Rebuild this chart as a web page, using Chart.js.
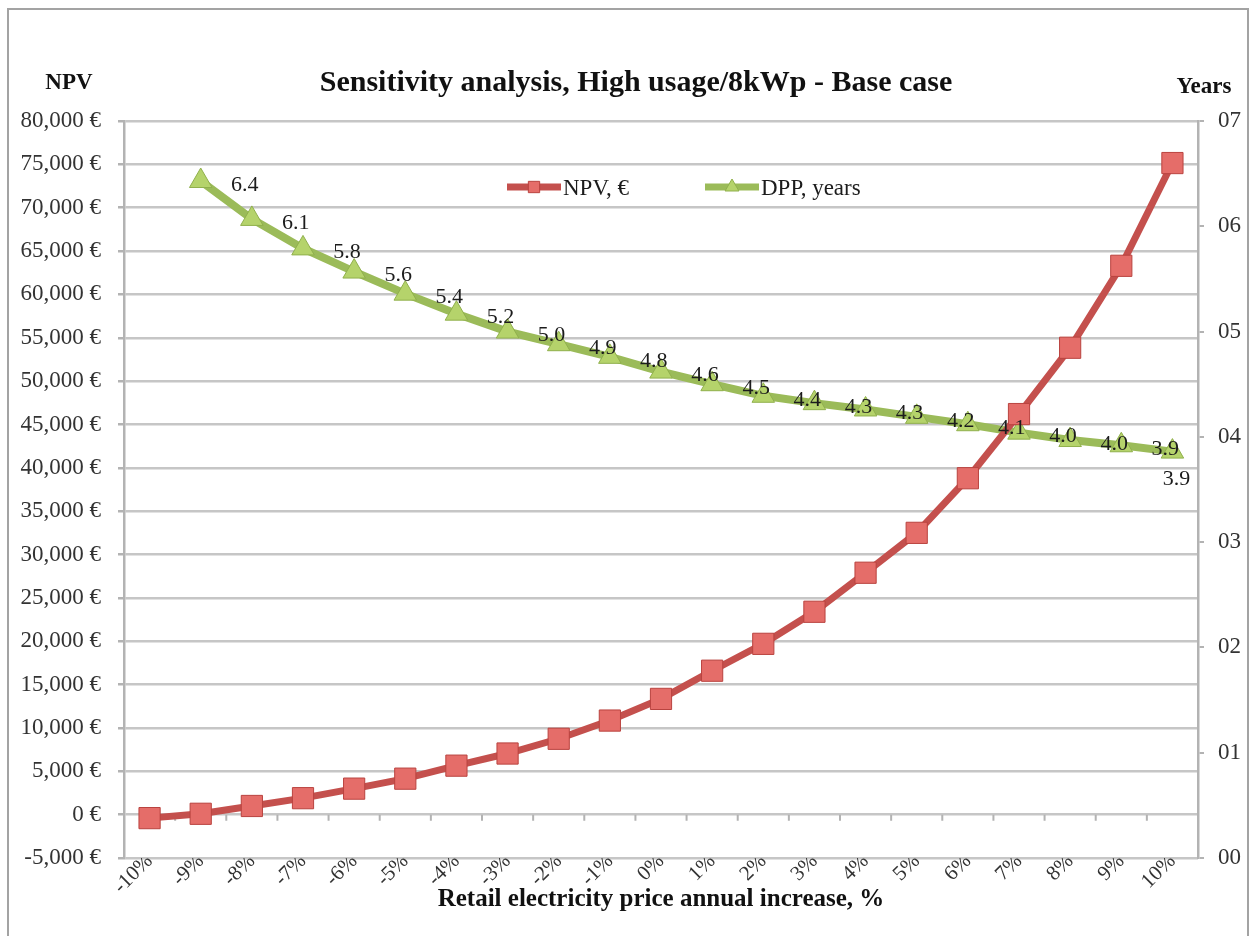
<!DOCTYPE html>
<html>
<head>
<meta charset="utf-8">
<title>Sensitivity analysis, High usage/8kWp - Base case</title>
<script src="https://cdn.jsdelivr.net/npm/chart.js@4.4.1/dist/chart.umd.min.js"></script>
<style>
  html, body { margin: 0; padding: 0; background: #ffffff; }
  #wrap { width: 1253px; height: 936px; position: relative; }
</style>
</head>
<body>
<div id="wrap"><canvas id="chart" width="1253" height="936"></canvas></div>
<script>
// ---- data ----
const categories = ['-10%', '-9%', '-8%', '-7%', '-6%', '-5%', '-4%', '-3%', '-2%', '-1%', '0%',
                    '1%', '2%', '3%', '4%', '5%', '6%', '7%', '8%', '9%', '10%'];
const npvValues = [-400, 100, 1000, 1900, 3000, 4150, 5650, 7050, 8750, 10850, 13350,
                   16600, 19700, 23400, 27900, 32500, 38800, 46200, 53850, 63300, 75150];
// discounted payback period in years; value labels show one decimal
const dppValues = [null, 6.43, 6.07, 5.79, 5.57, 5.36, 5.17, 5.0, 4.88, 4.76, 4.62,
                   4.5, 4.39, 4.32, 4.26, 4.19, 4.12, 4.04, 3.97, 3.92, 3.86];
const npvAxis = [-5000, 80000, 5000];   // min, max, step
const yearAxis = [0, 7, 1];             // min, max, step
const seriesNames = ['NPV, €', 'DPP, years'];
const titleText = 'Sensitivity analysis, High usage/8kWp - Base case';
const xAxisTitle = 'Retail electricity price annual increase, %';
const leftAxisName = 'NPV';
const rightAxisName = 'Years';

// ---- style ----
const SERIF = '"Liberation Serif", "Times New Roman", Times, serif';
const RED = '#c4504d';
const GREEN = '#9bbb59';
const GRID = '#c6c6c6';
const AXIS = '#b3b3b3';
const TICK_TEXT = '#333333';

const fmtEuro = v => v.toLocaleString('en-US') + ' €';
const fmtYears = v => '0' + v;

// frame, headings, legend, zero-line ticks and DPP value labels
const decorations = {
  id: 'decorations',
  beforeDraw(chart) {
    const ctx = chart.ctx;
    ctx.save();
    ctx.fillStyle = '#ffffff';
    ctx.fillRect(0, 0, chart.width, chart.height);
    ctx.strokeStyle = '#a3a3a3';
    ctx.lineWidth = 2;
    ctx.strokeRect(8, 9, 1240, 960);
    ctx.restore();
  },
  beforeDatasetsDraw(chart) {
    // small category ticks hanging from the zero line
    const ctx = chart.ctx;
    const xs = chart.scales.x;
    const y0 = chart.scales.y.getPixelForValue(0);
    const half = (xs.getPixelForValue(1) - xs.getPixelForValue(0)) / 2;
    ctx.save();
    ctx.strokeStyle = AXIS;
    ctx.lineWidth = 2;
    ctx.beginPath();
    for (let i = 0; i < categories.length - 1; i++) {
      const bx = xs.getPixelForValue(i) + half;
      ctx.moveTo(bx, y0);
      ctx.lineTo(bx, y0 + 6);
    }
    ctx.stroke();
    ctx.restore();
  },
  afterDatasetsDraw(chart) {
    const ctx = chart.ctx;
    const xs = chart.scales.x;
    const step = xs.getPixelForValue(1) - xs.getPixelForValue(0);
    const meta = chart.getDatasetMeta(1);
    const last = dppValues.length - 1;
    ctx.save();
    ctx.font = '22px ' + SERIF;
    ctx.fillStyle = '#1c1c1c';
    ctx.textAlign = 'center';
    ctx.textBaseline = 'middle';
    dppValues.forEach((v, i) => {
      if (v === null) return;
      const pt = meta.data[i];
      let dx = step * 0.86, dy = 4;
      if (i === last) { dx = 4; dy = 28; }
      ctx.fillText(v.toFixed(1), pt.x + dx, pt.y + dy);
    });
    ctx.restore();
  },
  afterDraw(chart) {
    const ctx = chart.ctx;
    const area = chart.chartArea;
    ctx.save();
    ctx.fillStyle = '#111111';
    ctx.textBaseline = 'middle';
    ctx.textAlign = 'center';
    ctx.font = 'bold 30px ' + SERIF;
    ctx.fillText(titleText, 636, 83);
    ctx.font = 'bold 23px ' + SERIF;
    ctx.fillText(leftAxisName, 69, 83);
    ctx.fillText(rightAxisName, 1204, 87);

    // legend inside the plot area
    const ly = area.top + 66;
    const items = [
      { ds: chart.data.datasets[0], x: 507 },
      { ds: chart.data.datasets[1], x: 705 }
    ];
    items.forEach(({ ds, x }) => {
      ctx.strokeStyle = ds.borderColor;
      ctx.lineWidth = 7;
      ctx.beginPath();
      ctx.moveTo(x, ly);
      ctx.lineTo(x + 54, ly);
      ctx.stroke();
      ctx.fillStyle = ds.pointBackgroundColor;
      ctx.strokeStyle = ds.pointBorderColor;
      ctx.lineWidth = 1;
      Chart.helpers.drawPoint(ctx, { pointStyle: ds.pointStyle, radius: 8, rotation: 0, borderWidth: 1 }, x + 27, ly);
      ctx.fillStyle = '#1c1c1c';
      ctx.font = '23px ' + SERIF;
      ctx.textAlign = 'left';
      ctx.fillText(ds.label, x + 56, ly + 2);
    });
    ctx.restore();
  }
};

new Chart(document.getElementById('chart').getContext('2d'), {
  type: 'line',
  data: {
    labels: categories,
    datasets: [
      {
        label: seriesNames[0],
        data: npvValues,
        yAxisID: 'y',
        borderColor: RED,
        borderWidth: 7,
        tension: 0,
        pointStyle: 'rect',
        pointRadius: 15,
        pointBackgroundColor: '#e56d69',
        pointBorderColor: '#b9433f',
        pointBorderWidth: 1
      },
      {
        label: seriesNames[1],
        data: dppValues,
        yAxisID: 'y1',
        borderColor: GREEN,
        borderWidth: 8,
        tension: 0,
        pointStyle: 'triangle',
        pointRadius: 13,
        pointBackgroundColor: '#b5d36b',
        pointBorderColor: '#90b04c',
        pointBorderWidth: 1
      }
    ]
  },
  options: {
    responsive: false,
    animation: false,
    devicePixelRatio: 1,
    layout: { padding: { top: 121, left: 0, right: 0, bottom: 0 } },
    plugins: {
      legend: { display: false },
      title: { display: false },
      tooltip: { enabled: false }
    },
    scales: {
      x: {
        type: 'category',
        offset: true,
        grid: { display: false, drawTicks: false },
        border: { display: false },
        ticks: {
          autoSkip: false,
          minRotation: 45,
          maxRotation: 45,
          padding: -9,
          color: TICK_TEXT,
          font: { family: SERIF, size: 21 }
        },
        title: {
          display: true,
          text: xAxisTitle,
          color: '#111111',
          font: { family: SERIF, size: 25, weight: 'bold' },
          padding: { top: 0, bottom: 21 }
        },
        afterFit(s) { s.height = 78; }
      },
      y: {
        position: 'left',
        min: npvAxis[0],
        max: npvAxis[1],
        ticks: {
          stepSize: npvAxis[2],
          padding: 17,
          color: TICK_TEXT,
          font: { family: SERIF, size: 23 },
          callback: v => fmtEuro(v)
        },
        grid: { color: GRID, lineWidth: 2.5, drawTicks: true, tickLength: 6, tickColor: AXIS },
        border: { display: true, color: AXIS, width: 2.5 },
        afterFit(s) { s.width = 124; }
      },
      y1: {
        position: 'right',
        min: yearAxis[0],
        max: yearAxis[1],
        ticks: {
          stepSize: yearAxis[2],
          padding: 14,
          color: TICK_TEXT,
          font: { family: SERIF, size: 23 },
          callback: v => fmtYears(v)
        },
        grid: { drawOnChartArea: false, drawTicks: true, tickLength: 6, color: AXIS, lineWidth: 2 },
        border: { display: true, color: AXIS, width: 2.5 },
        afterFit(s) { s.width = 55; }
      }
    }
  },
  plugins: [decorations]
});
</script>
</body>
</html>
